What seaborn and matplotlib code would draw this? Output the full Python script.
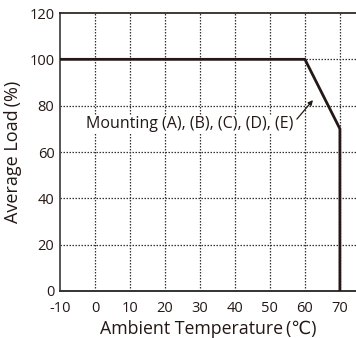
import matplotlib
matplotlib.use("Agg")
import matplotlib.pyplot as plt
import seaborn as sns
import pandas as pd

# derating curve
temp = [-10, 60, 70, 70]
load = [100, 100, 70, 0]
x_ticks = [-10, 0, 10, 20, 30, 40, 50, 60, 70]
y_ticks = [0, 20, 40, 60, 80, 100, 120]
note = "Mounting (A), (B), (C), (D), (E)"

sns.set_style("white")
plt.rcParams['font.family'] = ['Open Sans', 'DejaVu Sans']
plt.rcParams['axes.unicode_minus'] = False

df = pd.DataFrame({"temp": temp, "load": load})

fig = plt.figure(figsize=(3.56, 3.38), dpi=100)
ax = fig.add_axes([60 / 356, 47 / 338, 296 / 356, 278 / 338])

# grid lines
for xv in x_ticks[1:]:
    ax.axvline(xv, color="#333333", linestyle=(0, (1.2, 1.2)), linewidth=0.9, zorder=1)
for yv in y_ticks[1:-1]:
    ax.axhline(yv, color="#333333", linestyle=(0, (1.2, 1.2)), linewidth=0.9, zorder=1)

sns.lineplot(data=df, x="temp", y="load", sort=False, estimator=None,
             color="#231815", linewidth=2.0, ax=ax, zorder=3)

ax.set_xlim(-10, 74.6)
ax.set_ylim(0, 120)
ax.set_xticks(x_ticks)
ax.set_yticks(y_ticks)
ax.tick_params(axis="both", length=0, labelsize=10.5, colors="#231815")
ax.tick_params(axis="x", pad=7)
ax.tick_params(axis="y", pad=4)

ax.spines["right"].set_visible(False)
ax.spines["top"].set_color("#231815")
ax.spines["top"].set_linewidth(1.2)
ax.spines["left"].set_color("#555555")
ax.spines["left"].set_linewidth(1.4)
ax.spines["bottom"].set_color("#333333")
ax.spines["bottom"].set_linewidth(1.4)

ax.set_xlabel("Ambient Temperature\u2009(℃)", fontsize=12.8, color="#231815", labelpad=3)
ax.set_ylabel("Average Load\u2009(%)", fontsize=13, color="#231815", labelpad=5)

ax.text(27.1, 72, note, ha="center", va="center", fontsize=11.5, color="#231815",
        bbox=dict(facecolor="white", edgecolor="none", pad=0.5), zorder=4)
ax.annotate("", xy=(62.3, 82.4), xytext=(57.7, 74.2),
            arrowprops=dict(arrowstyle="-|>", color="#231815", lw=0.9,
                            mutation_scale=7, shrinkA=0, shrinkB=0),
            zorder=5)

fig.savefig("out.png", dpi=100)
